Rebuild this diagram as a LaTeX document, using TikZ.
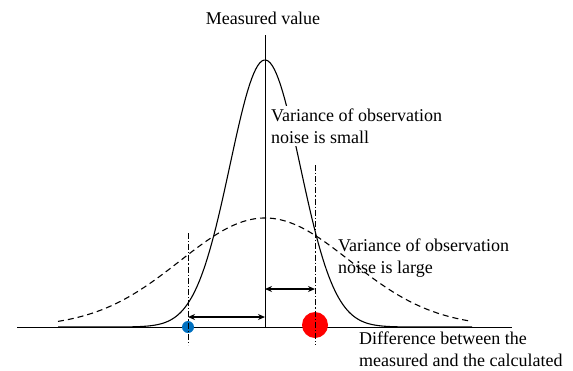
\documentclass[tikz,border=0pt]{standalone}
\usepackage{fontspec}
\setmainfont{Liberation Serif}
\usetikzlibrary{arrows.meta,positioning,calc}
\definecolor{DotBlue}{HTML}{0070C0}
\definecolor{DotRed}{HTML}{FF0000}

\begin{document}
\begin{tikzpicture}[x=1pt,y=-1pt,
    lbl/.style={anchor=west,align=left,font=\fontsize{18}{21.5}\selectfont,inner sep=1pt},
    dashdot/.style={line width=0.8pt,dash pattern=on 6pt off 2pt on 1.2pt off 2pt},
    gap/.style={{Stealth[length=7pt,width=6pt]}-{Stealth[length=7pt,width=6pt]},line width=1.3pt}]
  \useasboundingbox (0,0) rectangle (573,370);
  % axes
  \coordinate (base l) at (17,327);
  \coordinate (base r) at (512,327);
  \coordinate (axis top) at (265,35);
  \coordinate (axis bot) at (265,327);
  \draw[line width=0.9pt] (base l)--(base r);
  \draw[line width=0.9pt] (axis top)--(axis bot);
  % curves
  \draw[line width=1.1pt,dashed,dash pattern=on 6pt off 4pt,domain=58:472,samples=120]
    plot (\x,{327-109*exp(-0.5*((\x-265)/85)^2)});
  \draw[line width=1.1pt,domain=58:472,samples=200]
    plot (\x,{327-267*exp(-0.5*((\x-265)/35)^2)});
  % measured points
  \coordinate (blue top) at (188,233);
  \coordinate (blue bot) at (188,345);
  \coordinate (red top) at (315,165);
  \coordinate (red bot) at (315,345);
  \fill[DotRed] (315,325) circle (13);
  \fill[DotBlue] (188,327) circle (6);
  \draw[dashdot] (blue top)--(blue bot);
  \draw[dashdot] (red top)--(red bot);
  % distances
  \coordinate (al) at (188,317);
  \coordinate (ar) at (265,317);
  \coordinate (bl) at (265,289);
  \coordinate (br) at (315,289);
  \draw[gap] (al)--(ar);
  \draw[gap] (bl)--(br);
  % labels
  \node[lbl,anchor=center] (measured) at (263,18) {Measured value};
  \node[lbl,fill=white,inner sep=3pt] (small) at (268,126) {Variance of observation\\noise is small};
  \node[lbl] (large) at (337,258) {Variance of observation\\noise is large};
  \node[lbl] (diff) at (358,349) {Difference between the\\measured and the calculated};
\end{tikzpicture}
\end{document}
